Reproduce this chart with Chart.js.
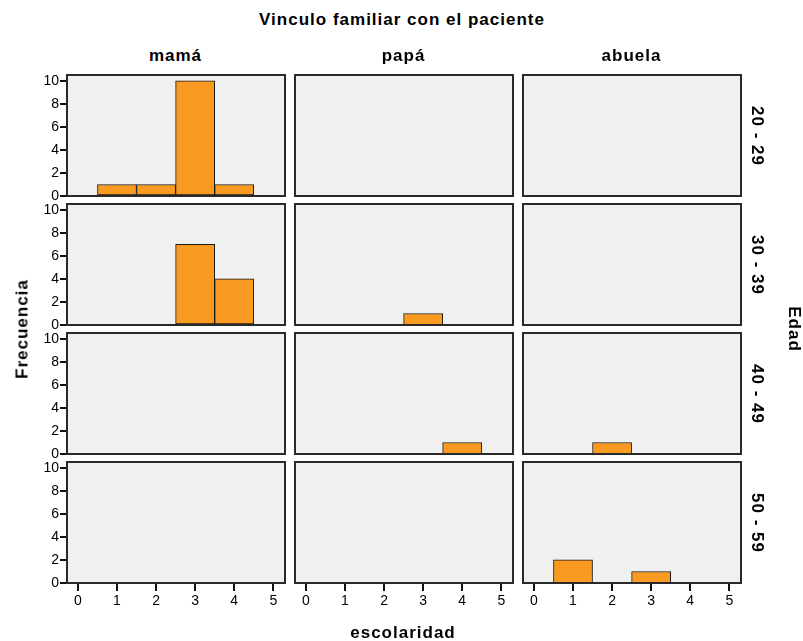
<!DOCTYPE html>
<html>
<head>
<meta charset="utf-8">
<script src="https://cdn.jsdelivr.net/npm/chart.js@4/dist/chart.umd.min.js"></script>
<style>
  body { margin: 0; background: #fff; }
  #wrap { position: relative; width: 803px; height: 641px; overflow: hidden; font-family: "Liberation Sans", Arial, sans-serif; }
  #wrap canvas { position: absolute; }
  .lbl { position: absolute; font-weight: bold; font-size: 17px; line-height: 17px; letter-spacing: 1px; color: #000; white-space: nowrap; }
  .ctr { transform: translate(-50%, 0); }
  .rot { transform: translate(-50%, -50%) rotate(90deg); }
  .rotl { transform: translate(-50%, -50%) rotate(-90deg); }
</style>
</head>
<body>
<div id="wrap"></div>
<script>
// escolaridad values on the x axis
const categories = [0, 1, 2, 3, 4, 5];
const yTicks = [0, 2, 4, 6, 8, 10];
const relationships = ["mamá", "papá", "abuela"];
const ageGroups = ["20 - 29", "30 - 39", "40 - 49", "50 - 59"];

// frecuencia per escolaridad (0..5), one array per panel
const mama_20_29   = [0, 1, 1, 10, 1, 0];
const papa_20_29   = [0, 0, 0, 0, 0, 0];
const abuela_20_29 = [0, 0, 0, 0, 0, 0];
const mama_30_39   = [0, 0, 0, 7, 4, 0];
const papa_30_39   = [0, 0, 0, 1, 0, 0];
const abuela_30_39 = [0, 0, 0, 0, 0, 0];
const mama_40_49   = [0, 0, 0, 0, 0, 0];
const papa_40_49   = [0, 0, 0, 0, 1, 0];
const abuela_40_49 = [0, 0, 1, 0, 0, 0];
const mama_50_59   = [0, 0, 0, 0, 0, 0];
const papa_50_59   = [0, 0, 0, 0, 0, 0];
const abuela_50_59 = [0, 2, 0, 1, 0, 0];

const panels = [
  [mama_20_29, papa_20_29, abuela_20_29],
  [mama_30_39, papa_30_39, abuela_30_39],
  [mama_40_49, papa_40_49, abuela_40_49],
  [mama_50_59, papa_50_59, abuela_50_59]
];

const wrap = document.getElementById("wrap");
const colLeft = [66.5, 294.5, 522.5];
const rowTop = [75, 204, 333, 462];
const panelW = 218, panelH = 121;
const axW = 40, axH = 30, padT = 10, padR = 10;

function addLabel(text, x, y, cls) {
  const d = document.createElement("div");
  d.className = "lbl " + cls;
  d.textContent = text;
  d.style.left = x + "px";
  d.style.top = y + "px";
  wrap.appendChild(d);
}

const panelFrame = {
  id: "panelFrame",
  beforeDraw(chart) {
    const a = chart.chartArea, ctx = chart.ctx;
    ctx.save();
    ctx.fillStyle = "#f0f0f0";
    ctx.fillRect(a.left, a.top, a.right - a.left, a.bottom - a.top);
    ctx.restore();
  },
  afterDraw(chart) {
    const a = chart.chartArea, ctx = chart.ctx;
    ctx.save();
    ctx.strokeStyle = "#2a2a2a";
    ctx.lineWidth = 2;
    ctx.strokeRect(a.left, a.top, a.right - a.left, a.bottom - a.top);
    ctx.restore();
  }
};

panels.forEach((row, r) => {
  row.forEach((counts, c) => {
    const cv = document.createElement("canvas");
    cv.width = axW + panelW + padR;
    cv.height = padT + panelH + axH;
    cv.style.left = (colLeft[c] - axW) + "px";
    cv.style.top = (rowTop[r] - padT) + "px";
    wrap.appendChild(cv);

    const showY = c === 0;
    const showX = r === panels.length - 1;

    new Chart(cv.getContext("2d"), {
      type: "bar",
      data: {
        datasets: [{
          data: categories.map((x, i) => ({ x: x, y: counts[i] > 0 ? counts[i] : null })),
          backgroundColor: "#f99a21",
          borderColor: "#1a1a1a",
          borderWidth: 1,
          borderSkipped: false,
          barPercentage: 1,
          categoryPercentage: 1
        }]
      },
      options: {
        responsive: false,
        animation: false,
        devicePixelRatio: 1,
        layout: { padding: { top: padT, right: padR, left: 0, bottom: 0 } },
        plugins: { legend: { display: false }, tooltip: { enabled: false }, title: { display: false } },
        scales: {
          x: {
            type: "linear",
            min: -0.28,
            max: 5.3,
            offset: false,
            afterBuildTicks: s => { s.ticks = categories.map(v => ({ value: v })); },
            afterFit: s => { s.height = axH; },
            border: { display: false },
            grid: { offset: false, drawOnChartArea: false, drawTicks: showX, display: showX, tickLength: 8, color: "#111", lineWidth: 2 },
            ticks: { display: showX, padding: 2, color: "#000", font: { family: "Liberation Sans", size: 14 } }
          },
          y: {
            min: 0,
            max: 10.5,
            afterBuildTicks: s => { s.ticks = yTicks.map(v => ({ value: v })); },
            afterFit: s => { s.width = axW; },
            border: { display: false },
            grid: { drawOnChartArea: false, drawTicks: showY, display: showY, tickLength: 7, color: "#111", lineWidth: 2 },
            ticks: { display: showY, padding: 1, color: "#000", font: { family: "Liberation Sans", size: 14 } }
          }
        }
      },
      plugins: [panelFrame]
    });
  });
});

// texts
addLabel("Vinculo familiar con el paciente", 402, 10.6, "ctr");
relationships.forEach((t, c) => addLabel(t, colLeft[c] + panelW / 2, 46.6, "ctr"));
ageGroups.forEach((t, r) => addLabel(t, 757, rowTop[r] + panelH / 2, "rot"));
addLabel("Edad", 794, 328.5, "rot");
addLabel("Frecuencia", 22, 328.5, "rotl");
addLabel("escolaridad", 403, 623.6, "ctr");
</script>
</body>
</html>
